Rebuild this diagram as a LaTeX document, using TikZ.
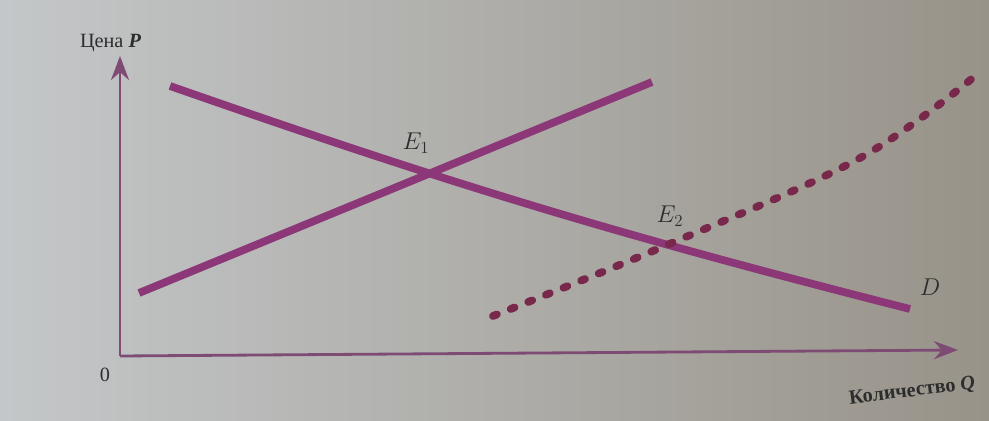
\documentclass[tikz,border=0pt]{standalone}
\usepackage{fontspec}
\setmainfont{Liberation Serif}
\usepackage{amsmath}
\usepackage{xcolor}
\usetikzlibrary{arrows.meta, positioning, calc}

\definecolor{curveC}{RGB}{140,55,120}
\definecolor{dotC}{RGB}{120,40,75}
\definecolor{axisC}{RGB}{125,75,115}
\definecolor{inkC}{RGB}{45,45,45}
\definecolor{paperL}{RGB}{196,199,201}
\definecolor{paperR}{RGB}{152,147,137}

\tikzset{
  axis/.style={draw=axisC, line width=2pt, -{Stealth[length=6mm, width=4.5mm]}},
  curve/.style={draw=curveC, line width=5.5pt},
  shifted/.style={draw=dotC, line width=5.5pt, line cap=round, dash pattern=on 3pt off 10.5pt},
  lab/.style={text=inkC, font=\Large}
}

\begin{document}
\begin{tikzpicture}[x=0.025cm, y=-0.025cm, >=Stealth]

  % paper
  \fill[left color=paperL, right color=paperR] (0,0) rectangle (989,421);
  \useasboundingbox (0,0) rectangle (989,421);

  % axes
  \coordinate (origin) at (120,356);
  \coordinate (ptop) at (120,56);
  \coordinate (qend) at (958,350);
  \draw[axis] (origin) -- (ptop);
  \draw[axis] (origin) -- (qend);

  \node[lab] (zero) at (105,375) {0};
  \node[lab, anchor=east] (price) at (146,43) {Цена \textbf{\textit{P}}};
  \node[lab, rotate=7, anchor=east] (qty) at (980,383) {\textbf{Количество} \textbf{\textit{Q}}};

  % supply and demand
  \coordinate (s1a) at (139,293);
  \coordinate (s1b) at (652,82);
  \coordinate (da) at (170,86);
  \coordinate (db) at (910,309);
  \draw[curve] (s1a) -- (s1b);
  \draw[curve] (da) to[bend right=2.5] (db);

  % shifted supply
  \coordinate (s2a) at (493,316);
  \coordinate (s2b) at (860,158);
  \coordinate (s2c) at (980,72);
  \coordinate (e1) at (425,173);
  \coordinate (e2) at (667,245);
  \draw[shifted] plot[smooth, tension=0.6] coordinates {(s2a) (e2) (s2b) (s2c)};

  % labels
  \node[lab, font=\LARGE] (e1lab) at (416,143) {$E_1$};
  \node[lab, font=\LARGE] (e2lab) at (670,216) {$E_2$};
  \node[lab, font=\LARGE] (dlab) at (930,287) {$D$};

\end{tikzpicture}
\end{document}
